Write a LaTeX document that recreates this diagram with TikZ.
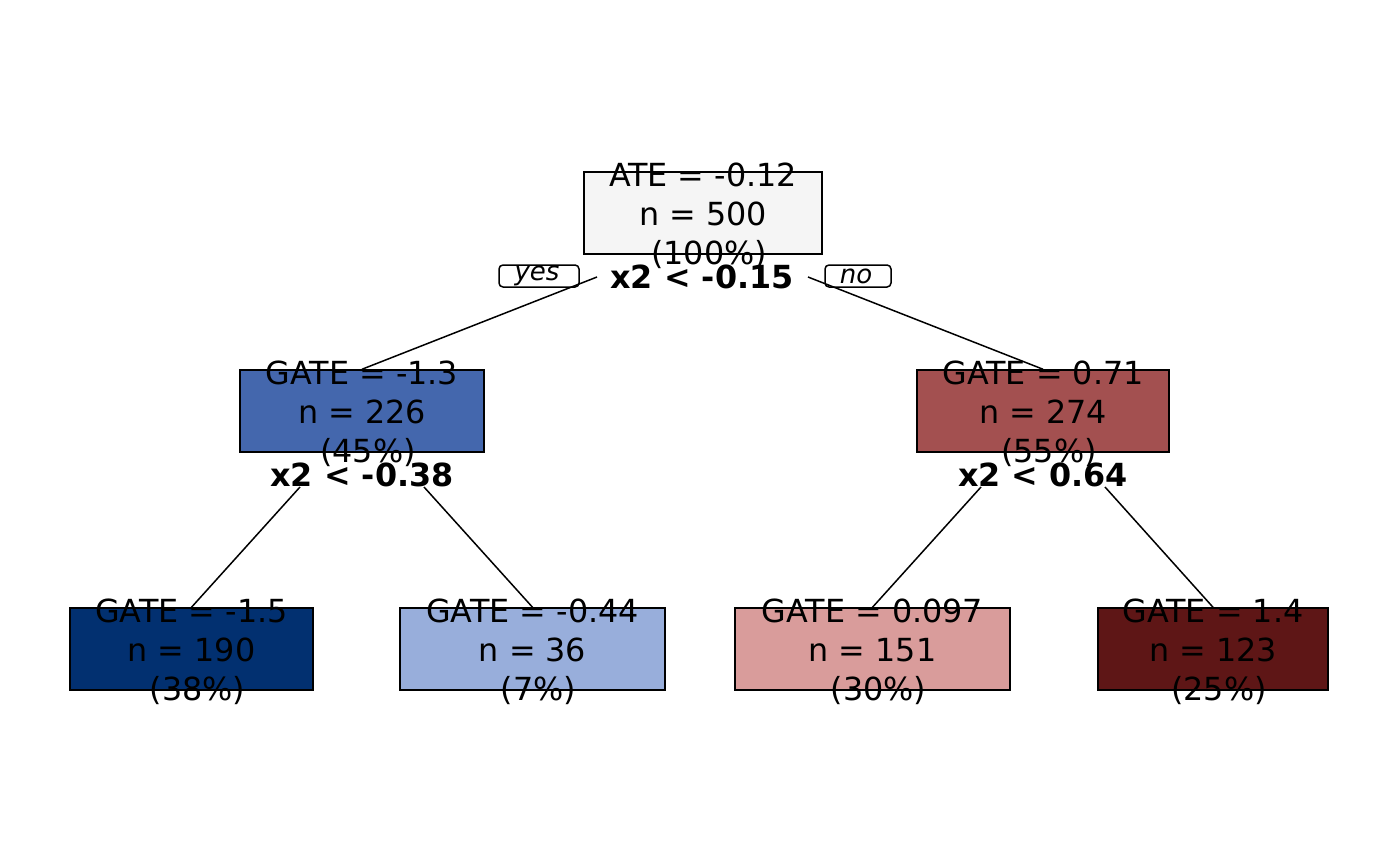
\documentclass[tikz,border=0pt]{standalone}
\usepackage{fontspec}
\setmainfont{DejaVu Sans}
\usetikzlibrary{positioning}
\definecolor{rootgray}{RGB}{245,245,245}
\definecolor{bluemid}{RGB}{68,103,173}
\definecolor{bluedark}{RGB}{2,48,112}
\definecolor{bluelight}{RGB}{152,174,219}
\definecolor{redlight}{RGB}{217,156,155}
\definecolor{redmid}{RGB}{163,80,80}
\definecolor{reddark}{RGB}{94,22,22}
\newcommand{\pct}[1]{\hspace*{6pt}(#1\%)}
\tikzset{box/.style = {draw, line width=0.75pt, minimum height=41pt, inner sep=0pt},
         stats/.style = {align=center, inner sep=0pt,
                         font=\fontsize{15.9}{19.5}\selectfont},
         split/.style = {inner sep=0pt, font=\fontsize{15.9}{19.5}\selectfont\bfseries},
         side/.style = {draw, rounded corners=2pt, line width=0.75pt, inner sep=0pt,
                        minimum height=11pt, font=\fontsize{13}{14}\selectfont\itshape},
         edge/.style = {line width=0.75pt}}

\begin{document}
\begin{tikzpicture}[x=0.5pt, y=-0.5pt]
      \useasboundingbox [fill=white] (0, 0) rectangle (1400, 866);

      % boxes
      \node [box, fill=rootgray, minimum width=119pt] (root) at (703, 213) {};
      \node [box, fill=bluemid, minimum width=122pt] (left) at (362, 411) {};
      \node [box, fill=redmid, minimum width=126pt] (right) at (1043, 411) {};
      \node [box, fill=bluedark, minimum width=121.5pt] (ll) at (191.5, 649) {};
      \node [box, fill=bluelight, minimum width=132.5pt] (lr) at (532.5, 649) {};
      \node [box, fill=redlight, minimum width=137.5pt] (rl) at (872.5, 649) {};
      \node [box, fill=reddark, minimum width=115pt] (rr) at (1213, 649) {};

      % texts
      \node [stats] at ([yshift=-1.5pt]root) {ATE = -0.12\\n = 500\\\pct{100}};
      \node [stats] at ([yshift=-1.5pt]left) {GATE = -1.3\\n = 226\\\pct{45}};
      \node [stats] at ([yshift=-1.5pt]right) {GATE = 0.71\\n = 274\\\pct{55}};
      \node [stats] at ([yshift=-1.5pt]ll) {GATE = -1.5\\n = 190\\\pct{38}};
      \node [stats] at ([yshift=-1.5pt]lr) {GATE = -0.44\\n = 36\\\pct{7}};
      \node [stats] at ([yshift=-1.5pt]rl) {GATE = 0.097\\n = 151\\\pct{30}};
      \node [stats] at ([yshift=-1.5pt]rr) {GATE = 1.4\\n = 123\\\pct{25}};

      % splits
      \node [split] (rootsplit) at (702, 277) {x2 < -0.15};
      \node [split] (leftsplit) at (362, 475) {x2 < -0.38};
      \node [split] (rightsplit) at (1043, 475) {x2 < 0.64};
      \node [side, minimum width=40pt] (yes) at (539, 276) {\raisebox{-1.5pt}{yes}\hspace*{2pt}};
      \node [side, minimum width=33pt] (no) at (858, 276) {\raisebox{-1.5pt}{no}\hspace*{2pt}};

      % edges
      \coordinate (a) at (597, 277);
      \coordinate (b) at (808, 277);
      \coordinate (c) at (300, 487);
      \coordinate (d) at (424, 487);
      \coordinate (e) at (981, 487);
      \coordinate (f) at (1105, 487);
      \draw [edge] (a) -- (left.north);
      \draw [edge] (b) -- (right.north);
      \draw [edge] (c) -- (ll.north);
      \draw [edge] (d) -- (lr.north);
      \draw [edge] (e) -- (rl.north);
      \draw [edge] (f) -- (rr.north);
    \end{tikzpicture}
\end{document}
